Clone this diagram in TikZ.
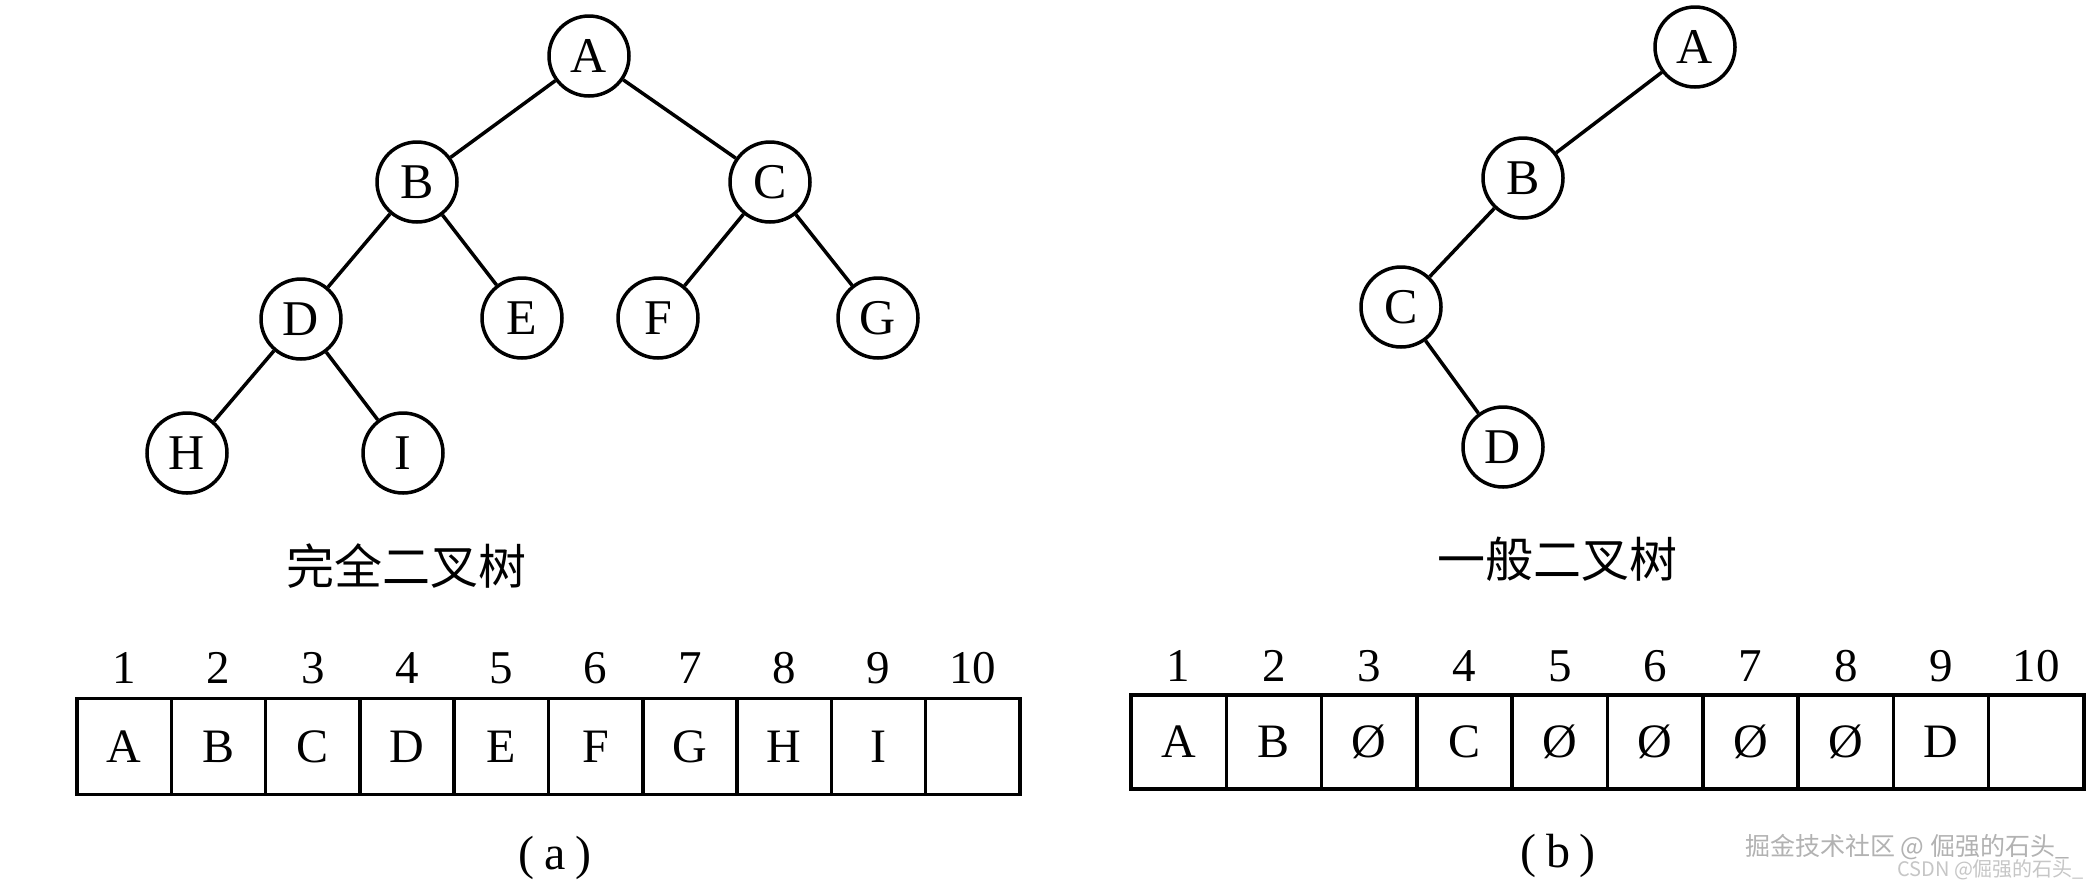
\documentclass[tikz,border=0pt]{standalone}
\usepackage{fontspec}
\setmainfont{Liberation Serif}
\newfontfamily\cjk{Noto Sans CJK SC}
\begin{document}
\begin{tikzpicture}[x=1pt,y=-1pt,
  tnode/.style={circle,draw,line width=3.5pt,minimum size=80pt,inner sep=0pt,font=\fontsize{50}{50}\selectfont},
  treeline/.style={line width=3.5pt},
  cellbox/.style={draw,line width=3.5pt,minimum height=96pt,inner sep=0pt,font=\fontsize{48}{48}\selectfont},
  idx/.style={inner sep=0pt,font=\fontsize{47}{47}\selectfont},
  cjklabel/.style={inner sep=0pt,font=\cjk\fontsize{48}{48}\selectfont},
  sublabel/.style={inner sep=0pt,font=\fontsize{48}{48}\selectfont},
  wm/.style={inner sep=0pt,text=gray!60,font=\cjk\fontsize{25}{25}\selectfont},
  wmsmall/.style={inner sep=0pt,text=gray!45,font=\fontsize{20}{20}\selectfont\cjk}]
\useasboundingbox (0,0) rectangle (2093,887);
\fill[white] (0,0) rectangle (2093,887);
% ---- complete binary tree ----
\node[tnode] (A) at (589,56) {A};
\node[tnode] (B) at (417,182) {B};
\node[tnode] (C) at (770,182) {C};
\node[tnode] (D) at (301,319) {D};
\node[tnode] (E) at (522,318) {E};
\node[tnode] (F) at (658,318) {F};
\node[tnode] (G) at (878,318) {G};
\node[tnode] (H) at (187,453) {H};
\node[tnode] (I) at (403,453) {I};
\draw[treeline] (A) -- (B);
\draw[treeline] (A) -- (C);
\draw[treeline] (B) -- (D);
\draw[treeline] (B) -- (E);
\draw[treeline] (C) -- (F);
\draw[treeline] (C) -- (G);
\draw[treeline] (D) -- (H);
\draw[treeline] (D) -- (I);
% ---- general binary tree ----
\node[tnode] (bA) at (1695,47) {A};
\node[tnode] (bB) at (1523,178) {B};
\node[tnode] (bC) at (1401,307) {C};
\node[tnode] (bD) at (1503,447) {D};
\draw[treeline] (bA) -- (bB);
\draw[treeline] (bB) -- (bC);
\draw[treeline] (bC) -- (bD);
% ---- labels ----
\node[cjklabel] (la) at (406,566) {完全二叉树};
\node[cjklabel] (lb) at (1557,559) {一般二叉树};
% ---- array (a) ----
\foreach \t [count=\i] in {A,B,C,D,E,F,G,H,I,{}} {
  \node[cellbox,minimum width=94.3pt] (ca\i) at ({77+94.3*(\i-0.5)},746.5) {\t};
  \node[idx] (na\i) at ({77+94.3*(\i-0.5)},668) {\i};
}
% ---- array (b) ----
\foreach \t [count=\i] in {A,B,Ø,C,Ø,Ø,Ø,Ø,D,{}} {
  \node[cellbox,minimum width=95.3pt,minimum height=94pt] (cb\i) at ({1131+95.3*(\i-0.5)},742) {\t};
  \node[idx] (nb\i) at ({1131+95.3*(\i-0.5)},666) {\i};
}
\node[sublabel] (sa) at (555,858) {(\hspace{10pt}a\hspace{10pt})};
\node[sublabel] (sb) at (1558,856) {(\hspace{10pt}b\hspace{10pt})};
% ---- watermark ----
\node[wm,anchor=west] (wm1) at (1745,847) {掘金技术社区 @ 倔强的石头\_};
\node[wmsmall,anchor=west] (wm2) at (1897,870) {CSDN @倔强的石头\_};
\end{tikzpicture}
\end{document}
